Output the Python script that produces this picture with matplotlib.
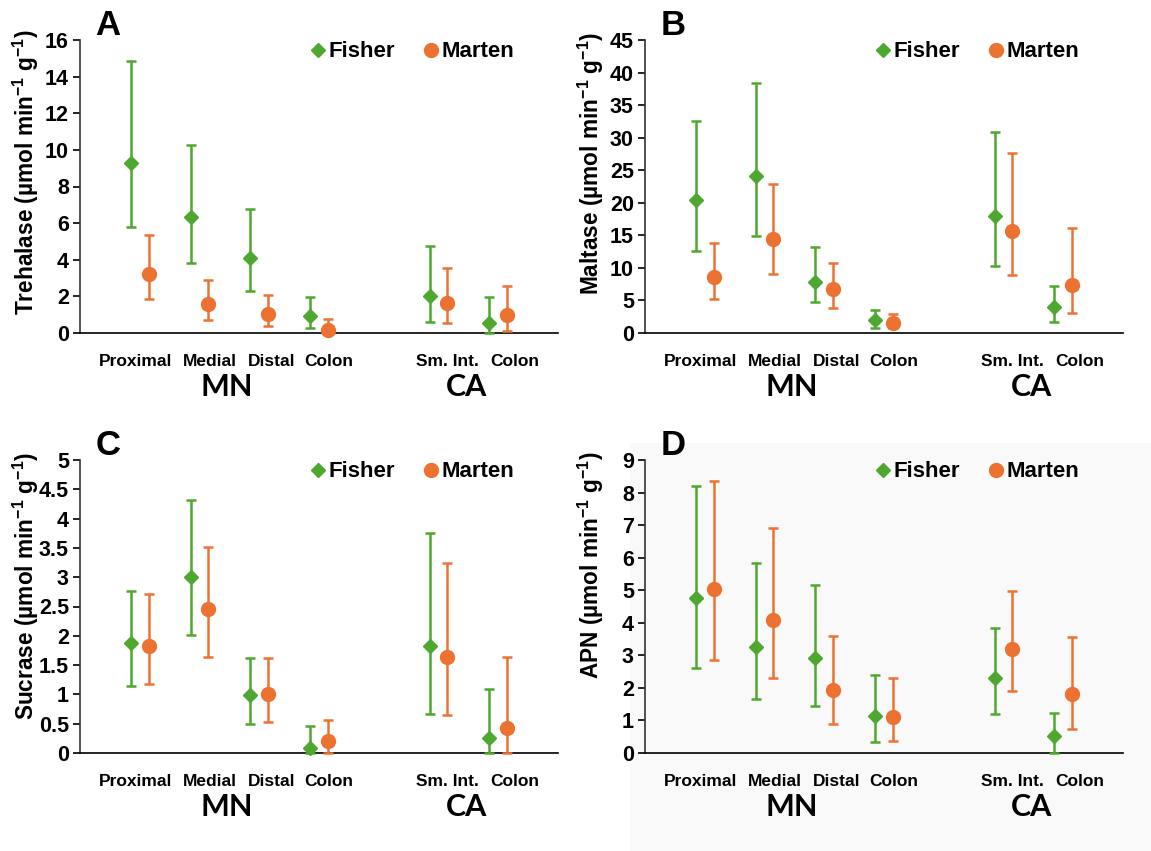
import matplotlib
matplotlib.use("Agg")
import matplotlib.pyplot as plt
from matplotlib.lines import Line2D
from matplotlib.patches import Rectangle
from matplotlib.ticker import FormatStrFormatter, MultipleLocator
import matplotlib.transforms as mtransforms

plt.rcParams['font.family'] = ['Liberation Sans', 'DejaVu Sans']
plt.rcParams['font.weight'] = 'bold'
plt.rcParams['mathtext.fontset'] = 'custom'
plt.rcParams['mathtext.rm'] = 'Liberation Sans:bold'
plt.rcParams['mathtext.bf'] = 'Liberation Sans:bold'

# sites (x=5 left empty between the two species groups)
sites = ['Proximal', 'Medial', 'Distal', 'Colon', 'Sm. Int.', 'Colon']
site_x = [1, 2, 3, 4, 6, 7]
groups = ['MN', 'CA']

# Trehalase
treh_fisher = [9.30, 6.35, 4.08, 0.95, 2.02, 0.53]
treh_fisher_lo = [5.77, 3.80, 2.31, 0.25, 0.58, 0.00]
treh_fisher_hi = [14.85, 10.27, 6.77, 1.95, 4.77, 1.95]
treh_marten = [3.22, 1.58, 1.04, 0.16, 1.62, 0.98]
treh_marten_lo = [1.86, 0.71, 0.40, 0.00, 0.53, 0.10]
treh_marten_hi = [5.35, 2.89, 2.06, 0.76, 3.53, 2.58]

# Maltase
malt_fisher = [20.38, 24.17, 7.89, 2.00, 18.02, 3.99]
malt_fisher_lo = [12.60, 14.95, 4.71, 0.82, 10.34, 1.74]
malt_fisher_hi = [32.56, 38.35, 13.21, 3.53, 30.93, 7.22]
malt_marten = [8.55, 14.44, 6.71, 1.59, 15.67, 7.37]
malt_marten_lo = [5.22, 9.06, 3.89, 0.72, 8.86, 3.07]
malt_marten_hi = [13.77, 22.89, 10.80, 2.87, 27.60, 16.08]

# Sucrase
sucr_fisher = [1.87, 3.01, 0.99, 0.09, 1.83, 0.25]
sucr_fisher_lo = [1.14, 2.01, 0.49, 0.00, 0.67, 0.00]
sucr_fisher_hi = [2.77, 4.31, 1.62, 0.455, 3.75, 1.09]
sucr_marten = [1.83, 2.45, 1.01, 0.20, 1.63, 0.43]
sucr_marten_lo = [1.17, 1.64, 0.53, 0.00, 0.64, 0.00]
sucr_marten_hi = [2.71, 3.52, 1.62, 0.57, 3.25, 1.64]

# APN
apn_fisher = [4.76, 3.26, 2.91, 1.15, 2.30, 0.52]
apn_fisher_lo = [2.60, 1.66, 1.43, 0.34, 1.20, 0.00]
apn_fisher_hi = [8.21, 5.83, 5.16, 2.41, 3.84, 1.23]
apn_marten = [5.03, 4.10, 1.94, 1.12, 3.18, 1.81]
apn_marten_lo = [2.86, 2.29, 0.90, 0.37, 1.89, 0.74]
apn_marten_hi = [8.37, 6.92, 3.60, 2.31, 4.99, 3.55]

green = '#4EA72E'
orange = '#EC7232'

panels = [
    ('A', 'Trehalase', 16, 2, treh_fisher, treh_fisher_lo, treh_fisher_hi,
     treh_marten, treh_marten_lo, treh_marten_hi),
    ('B', 'Maltase', 45, 5, malt_fisher, malt_fisher_lo, malt_fisher_hi,
     malt_marten, malt_marten_lo, malt_marten_hi),
    ('C', 'Sucrase', 5, 0.5, sucr_fisher, sucr_fisher_lo, sucr_fisher_hi,
     sucr_marten, sucr_marten_lo, sucr_marten_hi),
    ('D', 'APN', 9, 1, apn_fisher, apn_fisher_lo, apn_fisher_hi,
     apn_marten, apn_marten_lo, apn_marten_hi),
]

W, H = 1151, 851
fig = plt.figure(figsize=(W / 100, H / 100), dpi=100)

# faint grey backdrop behind panel D (scanned source)
fig.patches.append(Rectangle((630 / W, 0), 1 - 630 / W, 408 / H, transform=fig.transFigure,
                             facecolor='#f9f9f9', edgecolor='none', zorder=-5))

# axes boxes in pixels: left, top
boxes = [(80, 40), (645, 40), (80, 460), (645, 460)]
label_y = [0.55, 0.58, 0.57, 0.64]
label_x = [0.93, 2.18, 3.2, 4.17, 6.15, 7.27]
group_x = [2.45, 6.47]

for (letter, name, ymax, step, f, flo, fhi, m, mlo, mhi), (lx, ty), ly in zip(panels, boxes, label_y):
    ax = fig.add_axes([lx / W, 1 - (ty + 293) / H, 478 / W, 293 / H])
    ax.set_facecolor('none')

    off = 0.15
    fx = [x - off for x in site_x]
    mx = [x + off for x in site_x]
    ax.errorbar(fx, f, yerr=[[a - b for a, b in zip(f, flo)], [b - a for a, b in zip(f, fhi)]],
                fmt='D', color=green, ms=7.5, elinewidth=1.8, capsize=3.5, capthick=1.8,
                clip_on=False, zorder=3)
    ax.errorbar(mx, m, yerr=[[a - b for a, b in zip(m, mlo)], [b - a for a, b in zip(m, mhi)]],
                fmt='o', color=orange, ms=10, elinewidth=1.8, capsize=3.5, capthick=1.8,
                clip_on=False, zorder=3)

    ax.set_xlim(0, 8)
    ax.set_ylim(0, ymax)
    ax.yaxis.set_major_locator(MultipleLocator(step))
    ax.yaxis.set_major_formatter(FormatStrFormatter('%g'))
    ax.set_xticks([])
    for s in ['top', 'right']:
        ax.spines[s].set_visible(False)
    ax.spines['left'].set_color('#333333')
    ax.spines['left'].set_linewidth(1.2)
    ax.spines['bottom'].set_color('black')
    ax.spines['bottom'].set_linewidth(1.2)
    ax.tick_params(axis='y', direction='out', length=5, width=1.2, labelsize=15.5, pad=3)
    for t in ax.get_yticklabels():
        t.set_fontweight('bold')

    ax.set_ylabel(name + r' (µmol min$^{\mathbf{-1}}$ g$^{\mathbf{-1}}$)', fontsize=16.3,
                  fontweight='bold', va='center')
    ax.yaxis.set_label_coords(-0.113, ly)

    trans = mtransforms.blended_transform_factory(ax.transData, ax.transAxes)
    for s, x in zip(sites, label_x):
        ax.text(x, -0.098, s, transform=trans, ha='center', va='center',
                fontsize=12.5, fontweight='bold')
    for g, x in zip(groups, group_x):
        ax.text(x, -0.185, g, transform=trans, ha='center', va='center',
                fontsize=22, fontweight='bold', family=['Lato', 'DejaVu Sans'])

    ax.text(0.058, 1.05, letter, transform=ax.transAxes, ha='center', va='center',
            fontsize=25, fontweight='bold')

    handles = [Line2D([], [], marker='D', ls='none', color=green, ms=7.5),
               Line2D([], [], marker='o', ls='none', color=orange, ms=10)]
    ax.legend(handles, ['Fisher', 'Marten'], loc='upper left', bbox_to_anchor=(0.483, 0.995),
              ncol=2, frameon=False, handlelength=0.6, handletextpad=0.2,
              columnspacing=1.3, borderpad=0, borderaxespad=0,
              prop={'size': 16, 'weight': 'bold'})

fig.savefig('out.png', dpi=100)
